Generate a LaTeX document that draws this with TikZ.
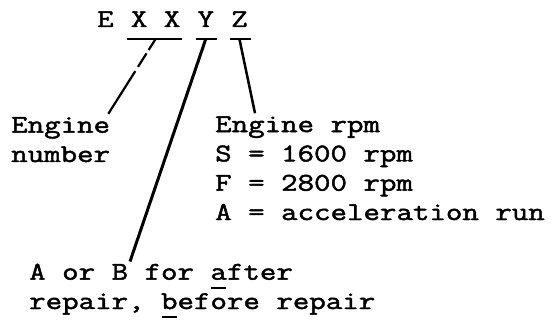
\documentclass[tikz,border=0pt]{standalone}
\usepackage{fontspec}
\newfontfamily\typer[FakeStretch=1.25,FakeBold=1.8]{Latin Modern Mono}
\usetikzlibrary{positioning}
\newcommand\keyl[1]{\rlap{\hspace{0.5pt}\rule[-9pt]{15pt}{1.6pt}}#1}

\begin{document}
\begin{tikzpicture}[x=1pt,y=-1pt,
    every node/.style={inner sep=0pt,align=left,font=\typer\fontsize{25.6}{29.3}\selectfont},
    bar/.style={line width=2.8pt},
    lead/.style={line width=2.5pt}]
        \fill[white] (0,0) rectangle (558,321);
        \useasboundingbox (0,0) rectangle (558,321);

        \node[anchor=base west] (e) at (97,27) {E};
        \node (xx) [base right=16.8pt of e] {X X};
        \node (y) [base right=16.8pt of xx] {Y};
        \node (z) [base right=16.8pt of y] {Z};

        % base of a multi-line node is its last line
        \node[anchor=base west] (num) at (11,162) {Engine\\number};
        \node[anchor=base west] (rpm) at (215,220) {Engine rpm\\S = 1600 rpm\\F = 2800 rpm\\A = acceleration run};
        \node[anchor=base west] (rep) at (29,309) {A or B for \keyl{a}fter\\repair, \keyl{b}efore repair};

        \draw[bar] ([xshift=-3.5pt,yshift=-12pt]xx.base west) -- ([xshift=1pt,yshift=-12pt]xx.base east);
        \draw[bar] ([xshift=-1pt,yshift=-12pt]y.base west) -- ([xshift=2.5pt,yshift=-12pt]y.base east);
        \draw[bar] ([xshift=-1.5pt,yshift=-12pt]z.base west) -- ([xshift=3.5pt,yshift=-12pt]z.base east);

        \draw[lead, line width=2.2pt, dash pattern=on 13pt off 4pt on 16pt off 5pt on 200pt] ([yshift=-12pt]xx.base) -- ([xshift=-2pt,yshift=3pt]num.north east);
        \draw[lead, line width=3pt] ([yshift=-12pt]y.base) -- ([xshift=101pt,yshift=2pt]rep.north west);
        \draw[lead] ([yshift=-12pt]z.base) -- ([xshift=40pt,yshift=3pt]rpm.north west);
\end{tikzpicture}
\end{document}
